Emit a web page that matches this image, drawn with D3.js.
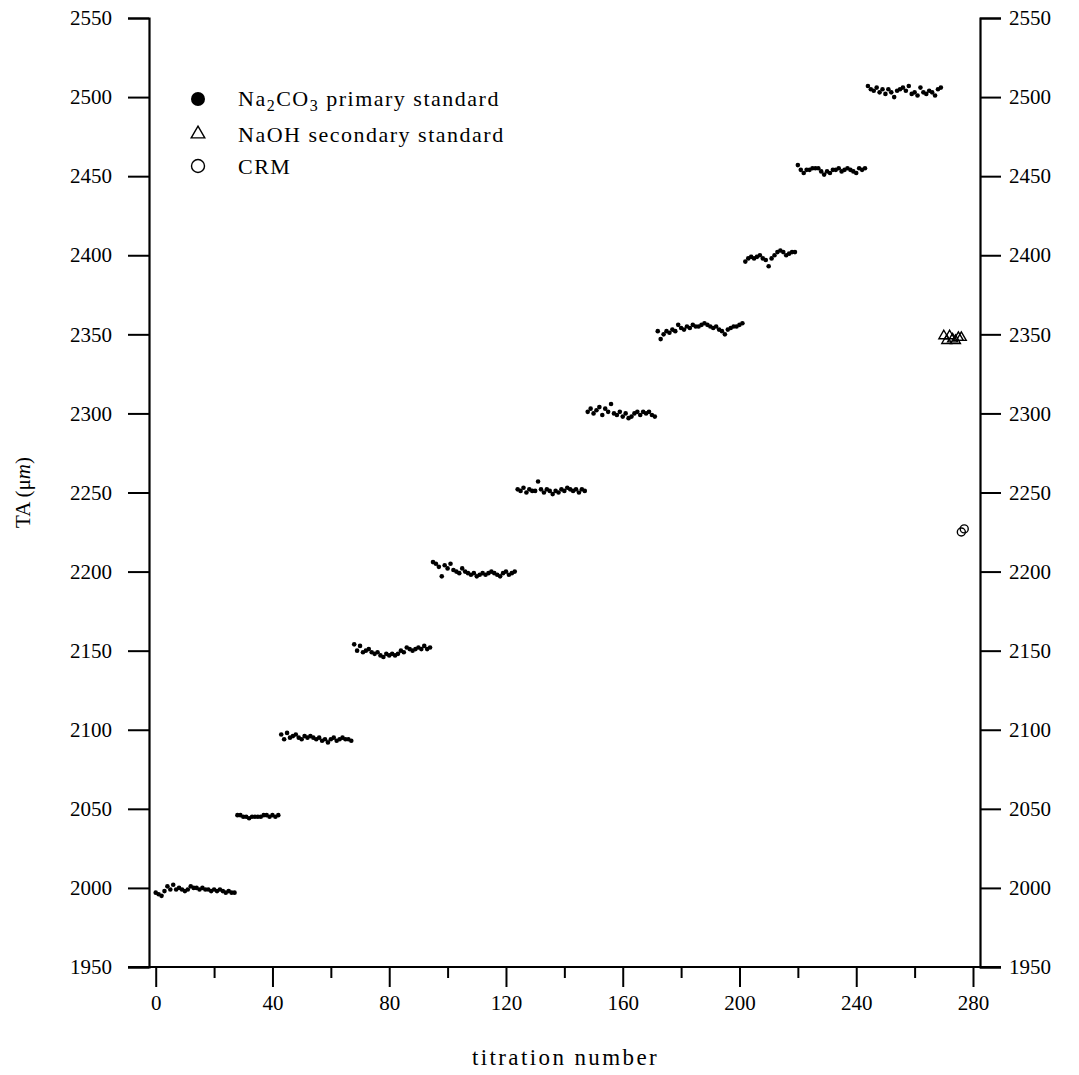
<!DOCTYPE html>
<html>
<head>
    <meta charset="utf-8">
    <title>TA titrations</title>
    <script src="https://d3js.org/d3.v7.min.js"></script>
    <style>
        body { margin: 0; background: #fff; }
        text { font-family: "Liberation Serif", "Times New Roman", serif; fill: #000; }
        .tick-label { font-size: 21px; }
        .legend-text { font-size: 22px; letter-spacing: 1.5px; }
    </style>
</head>
<body>
<svg width="1079" height="1075"></svg>
<script>
    // Na2CO3 primary standard, titration number = index (0..269)
    var na2co3Values = [
        // ~2000
        1997, 1996, 1995, 1998, 2001, 1999, 2002, 1999, 2000, 1999, 1998, 1999, 2001, 2000,
        2000, 1999, 2000, 1999, 1999, 1998, 1999, 1998, 1999, 1998, 1997, 1998, 1997, 1997,
        // ~2045
        2046, 2046, 2045, 2045, 2044, 2045, 2045, 2045, 2045, 2046, 2046, 2045, 2046, 2045, 2046,
        // ~2095
        2097, 2094, 2098, 2095, 2096, 2097, 2095, 2094, 2096, 2095, 2096, 2095, 2094, 2095,
        2093, 2094, 2092, 2094, 2095, 2093, 2094, 2095, 2094, 2094, 2093,
        // ~2150
        2154, 2150, 2153, 2149, 2150, 2151, 2149, 2148, 2149, 2147, 2146, 2148, 2147, 2148,
        2147, 2148, 2150, 2149, 2152, 2151, 2150, 2151, 2152, 2151, 2153, 2151, 2152,
        // ~2200
        2206, 2205, 2203, 2197, 2204, 2202, 2205, 2201, 2200, 2199, 2202, 2200, 2199, 2198,
        2199, 2197, 2198, 2199, 2198, 2199, 2200, 2199, 2198, 2197, 2199, 2200, 2198, 2199, 2200,
        // ~2252
        2252, 2251, 2253, 2250, 2252, 2251, 2251, 2257, 2252, 2250, 2252, 2251, 2249, 2251,
        2250, 2252, 2251, 2253, 2252, 2251, 2252, 2250, 2252, 2251,
        // ~2300
        2301, 2303, 2300, 2302, 2304, 2299, 2303, 2301, 2306, 2300, 2299, 2301, 2298, 2300,
        2297, 2298, 2300, 2301, 2299, 2301, 2300, 2301, 2299, 2298,
        // ~2354
        2352, 2347, 2350, 2352, 2351, 2353, 2352, 2356, 2354, 2353, 2355, 2354, 2356, 2355,
        2355, 2356, 2357, 2356, 2355, 2354, 2355, 2353, 2352, 2350, 2353, 2354, 2355, 2355, 2356, 2357,
        // ~2400
        2396, 2398, 2399, 2398, 2399, 2400, 2398, 2397, 2393, 2398, 2400, 2402, 2403, 2402,
        2400, 2401, 2402, 2402,
        // ~2453
        2457, 2454, 2452, 2454, 2454, 2455, 2455, 2455, 2453, 2451, 2453, 2452, 2454, 2454,
        2455, 2453, 2454, 2455, 2454, 2453, 2452, 2455, 2454, 2455,
        // ~2504
        2507, 2505, 2504, 2506, 2503, 2505, 2502, 2505, 2503, 2500, 2504, 2505, 2506, 2504,
        2507, 2502, 2503, 2501, 2506, 2503, 2502, 2504, 2503, 2501, 2505, 2506
    ];

    var naohX = [270, 271, 272, 273, 274, 275, 276];
    var naohValues = [2349, 2346, 2349, 2347, 2346, 2348, 2348];

    var crmX = [276, 277];
    var crmValues = [2225, 2227];

    var yTicks = [1950, 2000, 2050, 2100, 2150, 2200, 2250, 2300, 2350, 2400, 2450, 2500, 2550];
    var xMajorTicks = [0, 40, 80, 120, 160, 200, 240, 280];
    var xMinorTicks = [20, 60, 100, 140, 180, 220, 260];

    var svg = d3.select("svg"),
        plotL = 149, plotR = 980, plotT = 18, plotB = 967;

    var x = d3.scaleLinear().domain([-2.3, 282.4]).range([plotL, plotR]);
    var y = d3.scaleLinear().domain([1950, 2550]).range([plotB, plotT]);

    // left axis
    svg.append("g")
        .attr("transform", "translate(" + plotL + ",0)")
        .call(d3.axisLeft(y).tickValues(yTicks).tickSize(21).tickPadding(16).tickFormat(d3.format("d")));
    // right axis
    svg.append("g")
        .attr("transform", "translate(" + plotR + ",0)")
        .call(d3.axisRight(y).tickValues(yTicks).tickSize(21).tickPadding(8).tickFormat(d3.format("d")));
    // bottom axis, major + minor ticks
    svg.append("g")
        .attr("transform", "translate(0," + plotB + ")")
        .call(d3.axisBottom(x).tickValues(xMajorTicks).tickSize(20).tickPadding(8).tickFormat(d3.format("d")))
        .select(".domain").attr("d", "M" + (plotL - 21) + ",0H" + (plotR + 21));
    svg.append("g")
        .attr("transform", "translate(0," + plotB + ")")
        .call(d3.axisBottom(x).tickValues(xMinorTicks).tickSize(11).tickFormat(""))
        .select(".domain").remove();

    svg.selectAll(".domain").attr("stroke", "#000").attr("stroke-width", 2.2);
    svg.selectAll(".tick line").attr("stroke", "#000").attr("stroke-width", 2);
    svg.selectAll(".tick text").attr("class", "tick-label").attr("fill", "#000");

    // axis titles
    svg.append("text")
        .attr("x", (plotL + plotR) / 2 + 1)
        .attr("y", 1065)
        .attr("text-anchor", "middle")
        .style("font-size", "23px")
        .style("letter-spacing", "2.4px")
        .text("titration number");

    var yTitle = svg.append("text")
        .attr("transform", "translate(30," + ((plotT + plotB) / 2) + ") rotate(-90)")
        .attr("text-anchor", "middle")
        .style("font-size", "21px");
    yTitle.append("tspan").text("TA (\u03bc");
    yTitle.append("tspan").style("font-style", "italic").text("m");
    yTitle.append("tspan").text(")");

    // data
    svg.append("g").selectAll("circle")
        .data(na2co3Values)
        .enter().append("circle")
        .attr("cx", function (d, i) { return x(i); })
        .attr("cy", function (d) { return y(d); })
        .attr("r", 2.3)
        .attr("fill", "#000");

    var tri = d3.symbol().type(d3.symbolTriangle).size(42);
    svg.append("g").selectAll("path")
        .data(naohValues)
        .enter().append("path")
        .attr("d", tri)
        .attr("transform", function (d, i) { return "translate(" + x(naohX[i]) + "," + y(d) + ")"; })
        .attr("fill", "none")
        .attr("stroke", "#000")
        .attr("stroke-width", 1.4);

    svg.append("g").selectAll("circle")
        .data(crmValues)
        .enter().append("circle")
        .attr("cx", function (d, i) { return x(crmX[i]); })
        .attr("cy", function (d) { return y(d); })
        .attr("r", 4)
        .attr("fill", "none")
        .attr("stroke", "#000")
        .attr("stroke-width", 1.4);

    // legend
    var legend = svg.append("g");
    legend.append("circle").attr("cx", 198).attr("cy", 99).attr("r", 7).attr("fill", "#000");
    legend.append("path")
        .attr("d", d3.symbol().type(d3.symbolTriangle).size(80))
        .attr("transform", "translate(198,134)")
        .attr("fill", "none").attr("stroke", "#000").attr("stroke-width", 1.4);
    legend.append("circle").attr("cx", 198).attr("cy", 166).attr("r", 6.5)
        .attr("fill", "none").attr("stroke", "#000").attr("stroke-width", 1.4);

    var t1 = legend.append("text").attr("class", "legend-text").attr("x", 238).attr("y", 106);
    t1.append("tspan").text("Na");
    t1.append("tspan").attr("dy", 5).style("font-size", "16px").text("2");
    t1.append("tspan").attr("dy", -5).text("CO");
    t1.append("tspan").attr("dy", 5).style("font-size", "16px").text("3");
    t1.append("tspan").attr("dy", -5).text(" primary standard");
    legend.append("text").attr("class", "legend-text").attr("x", 238).attr("y", 142).text("NaOH secondary standard");
    legend.append("text").attr("class", "legend-text").attr("x", 238).attr("y", 174).text("CRM");
</script>
</body>
</html>
